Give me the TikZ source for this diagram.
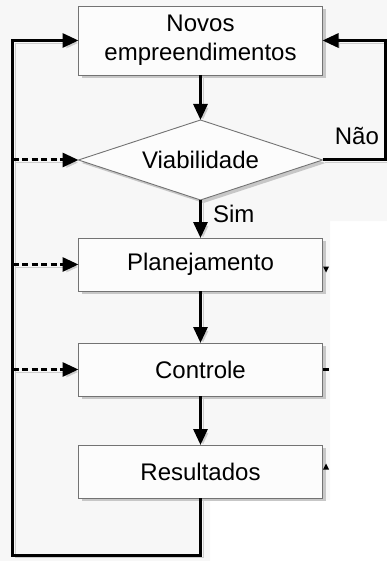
\documentclass[tikz,border=0pt]{standalone}
\usepackage{fontspec}
\setmainfont{Liberation Sans}
\usetikzlibrary{arrows.meta,positioning,shapes.geometric,shadows}

\begin{document}
\begin{tikzpicture}[x=1pt,y=1pt,>={Triangle[length=16pt,width=14pt]},
    node distance=45pt,
    stepbox/.style={rectangle,draw=black!55,line width=0.9pt,fill=black!1,
      minimum width=244pt,text width=236pt,align=center,inner sep=0pt,outer sep=0pt,
      drop shadow={shadow xshift=3pt,shadow yshift=-3pt,fill=black!22,opacity=1},
      font=\fontsize{24}{29}\selectfont},
    testbox/.style={diamond,draw=black!55,line width=0.9pt,fill=black!1,
      minimum width=244pt,minimum height=80pt,shape aspect=3.05,inner sep=1pt,outer sep=0pt,
      drop shadow={shadow xshift=3pt,shadow yshift=-3pt,fill=black!22,opacity=1},
      font=\fontsize{24}{29}\selectfont},
    link/.style={->,line width=3pt,
      preaction={draw=black!20,transform canvas={shift={(2.5pt,-2.5pt)}}}},
    feed/.style={link,dash pattern=on 6pt off 3.5pt},
    lbl/.style={inner sep=1pt,font=\fontsize{24}{29}\selectfont}]
    % background
    \fill[black!3] (0,0) -- (387,0) -- (387,-221) -- (330,-221) -- (330,-500)
      -- (210,-500) -- (210,-561) -- (0,-561) -- cycle;
    \useasboundingbox (0,0) rectangle (387,-561);

    \node[stepbox,minimum height=69pt] (novos) at (200.5,-40.5) {Novos\\empreendimentos};
    \node[testbox] (viab) [below=of novos] {Viabilidade};
    \node[stepbox,minimum height=53pt] (plan) [below=38pt of viab] {Planejamento};
    \node[stepbox,minimum height=53pt] (ctrl) [below=52pt of plan] {Controle};
    \node[stepbox,minimum height=53pt] (res) [below=49pt of ctrl] {Resultados};

    \coordinate (loop) at (12.7,-555);
    \coordinate (back) at (385,-160);

    \draw[link] (novos) -- (viab);
    \draw[link] (viab) -- node[lbl,right=10pt,pos=0.36] {Sim} (plan);
    \draw[link] (plan) -- (ctrl);
    \draw[link] (ctrl) -- (res);
    \draw[link] (res.south) |- (loop) |- (novos.west);
    \draw[link] (viab.east) -- node[lbl,above=13pt,pos=0.55] {Não} (viab.east -| back)
      |- (novos.east);
    \draw[feed] (loop |- viab.west) -- (viab.west);
    \draw[feed] (loop |- plan.west) -- (plan.west);
    \draw[feed] (loop |- ctrl.west) -- (ctrl.west);

    % cut-off ends on the right
    \fill ([shift={(0.5,-2)}]plan.east) -- ++(6,0) -- ++(-3,-6) -- cycle;
    \draw[line width=2.4pt] (ctrl.east) -- ++(6,0);
    \fill ([shift={(0.5,2)}]res.east) -- ++(6,0) -- ++(-3,6) -- cycle;
\end{tikzpicture}
\end{document}
